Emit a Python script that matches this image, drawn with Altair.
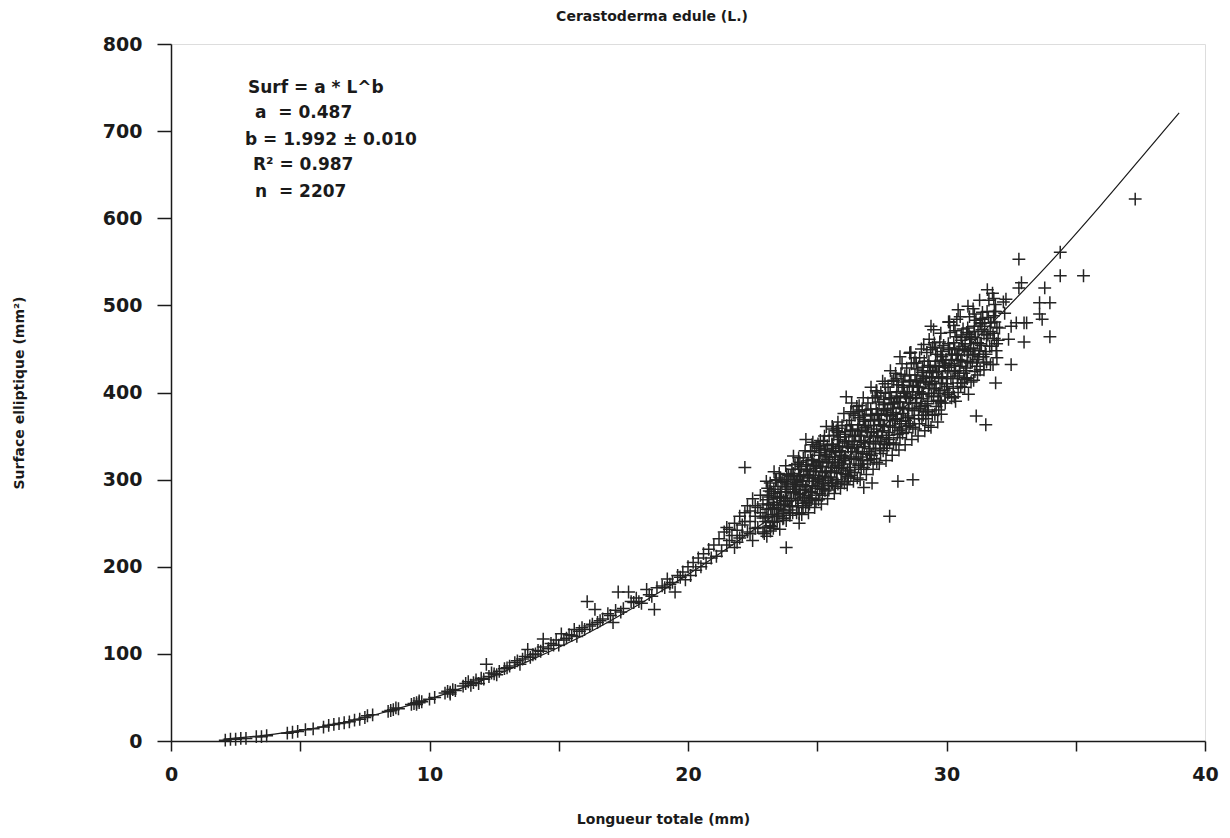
import altair as alt
import pandas as pd

# ---------------- data ----------------
# small shells (L < 20 mm)
low_L = [2.1, 2.3, 2.5, 2.7, 2.9, 3.3, 3.5, 3.7, 4.5, 4.7,
         4.9, 5.2, 5.5, 5.9, 6.1, 6.3, 6.5, 6.7, 6.9, 7.1,
         7.3, 7.5, 7.6, 7.8, 8.4, 8.5, 8.6, 8.7, 8.8, 9.3,
         9.4, 9.5, 9.6, 9.7, 10.0, 10.2, 10.6, 10.7, 10.8, 10.9,
         11.3, 11.4, 11.5, 11.6, 11.8, 11.9, 12.0, 12.2, 12.3, 12.4,
         12.5, 12.7, 12.9, 13.1, 13.3, 13.4, 13.5, 13.7, 13.8, 13.9,
         14.1, 14.2, 14.4, 14.4, 14.6, 14.7, 14.9, 15.0, 15.1, 15.3,
         15.4, 15.6, 15.7, 15.9, 16.1, 16.2, 16.4, 16.5, 16.7, 16.9,
         17.1, 17.2, 17.3, 17.5, 17.7, 17.8, 17.9, 18.0, 18.2, 18.4,
         18.5, 18.7, 18.8, 19.0, 19.2, 19.3, 19.5, 19.6, 19.8, 19.9,
         9.5, 9.6, 10.8, 11.0, 11.7, 12.1, 12.6, 13.0, 13.6, 14.0,
         14.3, 14.8, 15.2, 15.5, 15.8, 16.0, 16.3, 16.6, 17.0, 17.4,
         18.1, 18.6, 19.1, 19.4, 19.7]
low_S = [1, 2, 2, 3, 3, 5, 5, 6, 9, 10,
         11, 13, 14, 16, 18, 19, 20, 21, 22, 24,
         25, 27, 29, 30, 34, 35, 36, 38, 37, 42,
         43, 44, 46, 45, 48, 50, 55, 57, 56, 59,
         63, 66, 68, 64, 70, 66, 72, 88, 74, 78,
         77, 80, 83, 86, 90, 92, 88, 97, 105, 96,
         100, 104, 108, 117, 106, 112, 116, 110, 123, 118,
         122, 128, 120, 130, 160, 132, 151, 136, 140, 146,
         136, 150, 171, 152, 171, 160, 159, 164, 158, 174,
         168, 151, 176, 178, 186, 180, 171, 190, 194, 185,
         42, 44, 54, 58, 67, 71, 76, 84, 94, 99,
         103, 110, 116, 121, 126, 128, 134, 138, 144, 148,
         160, 166, 176, 182, 188]

# 20 - 23 mm
mid_L = [20.0, 20.1, 20.2, 20.3, 20.4, 20.5, 20.6, 20.7, 20.8, 20.9,
         21.0, 21.1, 21.2, 21.3, 21.4, 21.5, 21.5, 21.6, 21.7, 21.8,
         21.8, 21.9, 22.0, 22.0, 22.1, 22.2, 22.2, 22.3, 22.3, 22.4,
         22.5, 22.5, 22.6, 22.7, 22.7, 22.8, 22.9, 22.9, 22.1, 22.4,
         22.6, 22.8, 22.9, 22.4, 22.6, 22.2, 21.9, 21.6]
mid_S = [200, 190, 205, 196, 210, 200, 215, 204, 220, 210,
         225, 212, 232, 218, 240, 225, 245, 230, 236, 250,
         222, 242, 258, 233, 248, 314, 262, 240, 270, 252,
         230, 278, 258, 245, 268, 282, 256, 240, 236, 264,
         244, 262, 272, 238, 270, 252, 228, 243]

# dense band 23 - 32 mm (first reading)
band_L = [
    22.95, 23.0, 23.05, 23.1, 22.98, 23.08, 23.02, 23.12,
    23.2, 23.25, 23.3, 23.22, 23.28, 23.35, 23.18, 23.32,
    23.45, 23.5, 23.55, 23.48, 23.58, 23.42, 23.52, 23.6,
    23.7, 23.75, 23.8, 23.72, 23.78, 23.68, 23.82, 23.76,
    23.95, 24.0, 24.05, 23.98, 24.08, 23.92, 24.02, 24.1,
    24.2, 24.25, 24.3, 24.22, 24.28, 24.18, 24.32, 24.26, 24.24, 24.35, 24.15, 24.3,
    24.45, 24.5, 24.55, 24.48, 24.58, 24.42, 24.52, 24.6, 24.46, 24.56, 24.4, 24.62,
    24.7, 24.75, 24.8, 24.72, 24.78, 24.68, 24.82, 24.76, 24.74, 24.85, 24.66, 24.8,
    24.95, 25.0, 25.05, 24.98, 25.08, 24.92, 25.02, 25.1, 24.96, 25.06, 24.9, 25.12,
    25.2, 25.25, 25.3, 25.22, 25.28, 25.18, 25.32, 25.26, 25.24, 25.35, 25.16, 25.3,
    25.45, 25.5, 25.55, 25.48, 25.58, 25.42, 25.52, 25.6, 25.46, 25.56, 25.4, 25.62,
    25.7, 25.75, 25.8, 25.72, 25.78, 25.68, 25.82, 25.76, 25.74, 25.85, 25.66, 25.8,
    25.95, 26.0, 26.05, 25.98, 26.08, 25.92, 26.02, 26.1, 25.96, 26.06, 25.9, 26.12,
    26.2, 26.25, 26.3, 26.22, 26.28, 26.18, 26.32, 26.26, 26.24, 26.35, 26.16, 26.3,
    26.45, 26.5, 26.55, 26.48, 26.58, 26.42, 26.52, 26.6, 26.46, 26.56, 26.4, 26.62,
    26.7, 26.75, 26.8, 26.72, 26.78, 26.68, 26.82, 26.76, 26.74, 26.85, 26.66, 26.8,
    26.95, 27.0, 27.05, 26.98, 27.08, 26.92, 27.02, 27.1, 26.96, 27.06, 26.9, 27.12,
    27.2, 27.25, 27.3, 27.22, 27.28, 27.18, 27.32, 27.26, 27.24, 27.35, 27.16, 27.3,
    27.45, 27.5, 27.55, 27.48, 27.58, 27.42, 27.52, 27.6, 27.46, 27.56, 27.4, 27.62,
    27.7, 27.75, 27.8, 27.72, 27.78, 27.68, 27.82, 27.76, 27.74, 27.85, 27.66, 27.8,
    27.95, 28.0, 28.05, 27.98, 28.08, 27.92, 28.02, 28.1, 27.96, 28.06, 27.9, 28.12,
    28.2, 28.25, 28.3, 28.22, 28.28, 28.18, 28.32, 28.26, 28.24, 28.35, 28.16, 28.2,
    28.45, 28.5, 28.55, 28.48, 28.58, 28.42, 28.52, 28.6, 28.46, 28.56, 28.4, 28.62,
    28.7, 28.75, 28.8, 28.72, 28.78, 28.68, 28.82, 28.76, 28.74, 28.85, 28.66, 28.7,
    28.95, 29.0, 29.05, 28.98, 29.08, 28.92, 29.02, 29.1, 28.96, 29.06, 28.9, 29.12,
    29.2, 29.25, 29.3, 29.22, 29.28, 29.18, 29.32, 29.26, 29.24, 29.35, 29.16, 29.3,
    29.45, 29.5, 29.55, 29.48, 29.58, 29.42, 29.52, 29.6, 29.46, 29.56, 29.4, 29.5,
    29.7, 29.75, 29.8, 29.72, 29.78, 29.68, 29.82, 29.76, 29.74, 29.85, 29.66, 29.8,
    29.95, 30.0, 30.05, 29.98, 30.08, 29.92, 30.02, 30.1, 30.12,
    30.2, 30.25, 30.3, 30.22, 30.28, 30.18, 30.32, 30.26, 30.35,
    30.45, 30.5, 30.55, 30.48, 30.58, 30.42, 30.52, 30.6, 30.45,
    30.7, 30.75, 30.8, 30.72, 30.78, 30.68, 30.82, 30.76, 30.85,
    30.95, 31.0, 31.05, 30.98, 31.08, 30.92, 31.02, 31.1, 30.9,
    31.2, 31.25, 31.3, 31.22, 31.28, 31.15,
    31.45, 31.5, 31.55, 31.48, 31.4, 31.52,
    31.7, 31.75, 31.8, 31.72, 31.9, 31.85,
    31.95, 32.0, 32.05, 32.2, 32.25, 32.3,
]
band_S = [
    238, 252, 266, 280, 258, 290, 245, 272,
    246, 260, 274, 286, 266, 252, 296, 279,
    252, 266, 280, 292, 271, 300, 258, 286,
    256, 272, 286, 298, 279, 264, 306, 292,
    262, 278, 292, 304, 285, 270, 312, 296,
    262, 276, 288, 300, 312, 294, 283, 270, 318, 305, 292, 250,
    268, 280, 292, 305, 317, 298, 288, 274, 325, 346, 260, 310,
    272, 286, 298, 310, 322, 303, 293, 279, 332, 316, 262, 340,
    276, 290, 302, 315, 328, 309, 298, 284, 338, 321, 268, 345,
    282, 296, 308, 320, 334, 315, 304, 290, 344, 361, 272, 327,
    288, 302, 314, 326, 340, 320, 310, 296, 350, 332, 278, 358,
    292, 308, 320, 333, 346, 326, 316, 300, 356, 338, 284, 366,
    298, 314, 326, 338, 352, 332, 322, 306, 362, 344, 290, 395,
    302, 318, 332, 344, 357, 338, 326, 310, 368, 350, 294, 378,
    308, 324, 337, 350, 363, 344, 332, 316, 374, 356, 298, 385,
    312, 330, 343, 356, 369, 350, 338, 322, 380, 362, 300, 291,
    318, 336, 349, 362, 375, 355, 344, 328, 388, 368, 306, 296,
    324, 342, 355, 368, 381, 362, 350, 334, 394, 374, 312, 402,
    330, 348, 362, 375, 388, 368, 356, 340, 400, 381, 318, 410,
    336, 354, 368, 381, 394, 375, 362, 346, 406, 387, 322, 258,
    342, 360, 375, 388, 401, 382, 369, 352, 414, 394, 328, 298,
    348, 367, 382, 395, 408, 389, 376, 358, 421, 401, 334, 441,
    354, 373, 388, 401, 414, 395, 382, 364, 428, 408, 340, 446,
    360, 379, 394, 407, 420, 401, 388, 370, 434, 414, 346, 300,
    364, 384, 399, 412, 425, 406, 393, 374, 440, 419, 350, 455,
    370, 390, 405, 418, 431, 412, 399, 380, 446, 425, 356, 362,
    374, 395, 410, 423, 436, 417, 404, 384, 452, 430, 360, 472,
    380, 402, 417, 430, 443, 424, 411, 390, 458, 437, 366, 375,
    388, 410, 425, 438, 451, 431, 418, 400, 481,
    394, 416, 431, 444, 457, 437, 424, 405, 390,
    400, 422, 437, 450, 463, 443, 430, 411, 495,
    406, 428, 443, 456, 469, 449, 436, 417, 398,
    412, 435, 450, 463, 476, 456, 443, 424, 464,
    420, 441, 456, 470, 448, 373,
    426, 447, 462, 476, 484, 363,
    432, 453, 468, 480, 411, 493,
    440, 460, 474, 504, 491, 507,
]

# dense band 23 - 32 mm (second reading, between the first one)
band2_L = [
    23.05, 23.17, 23.10, 23.20, 23.07, 23.14, 23.03, 23.19, 23.12, 23.08,
    23.30, 23.42, 23.35, 23.45, 23.32, 23.39, 23.28, 23.44, 23.37, 23.33,
    23.55, 23.67, 23.60, 23.70, 23.57, 23.64, 23.53, 23.69, 23.62, 23.58,
    23.80, 23.92, 23.85, 23.95, 23.82, 23.89, 23.78, 23.94, 23.87, 23.83,
    24.05, 24.17, 24.10, 24.20, 24.07, 24.14, 24.03, 24.19, 24.12, 24.08,
    24.30, 24.42, 24.35, 24.45, 24.32, 24.39, 24.28, 24.44, 24.37, 24.33,
    24.55, 24.67, 24.60, 24.70, 24.57, 24.64, 24.53, 24.69, 24.62, 24.58,
    24.80, 24.92, 24.85, 24.95, 24.82, 24.89, 24.78, 24.94, 24.87, 24.83,
    25.05, 25.17, 25.10, 25.20, 25.07, 25.14, 25.03, 25.19, 25.12, 25.08,
    25.30, 25.42, 25.35, 25.45, 25.32, 25.39, 25.28, 25.44, 25.37, 25.33,
    25.55, 25.67, 25.60, 25.70, 25.57, 25.64, 25.53, 25.69, 25.62, 25.58,
    25.80, 25.92, 25.85, 25.95, 25.82, 25.89, 25.78, 25.94, 25.87, 25.83,
    26.05, 26.17, 26.10, 26.20, 26.07, 26.14, 26.03, 26.19, 26.12, 26.08,
    26.30, 26.42, 26.35, 26.45, 26.32, 26.39, 26.28, 26.44, 26.37, 26.33,
    26.55, 26.67, 26.60, 26.70, 26.57, 26.64, 26.53, 26.69, 26.62, 26.58,
    26.80, 26.92, 26.85, 26.95, 26.82, 26.89, 26.78, 26.94, 26.87, 26.83,
    27.05, 27.17, 27.10, 27.20, 27.07, 27.14, 27.03, 27.19, 27.12, 27.08,
    27.30, 27.42, 27.35, 27.45, 27.32, 27.39, 27.28, 27.44, 27.37, 27.33,
    27.55, 27.67, 27.60, 27.70, 27.57, 27.64, 27.53, 27.69, 27.62, 27.58,
    27.80, 27.92, 27.85, 27.95, 27.82, 27.89, 27.78, 27.94, 27.87, 27.83,
    28.05, 28.17, 28.10, 28.20, 28.07, 28.14, 28.03, 28.19, 28.12, 28.08,
    28.30, 28.42, 28.35, 28.45, 28.32, 28.39, 28.28, 28.44, 28.37, 28.33,
    28.55, 28.67, 28.60, 28.70, 28.57, 28.64, 28.53, 28.69, 28.62, 28.58,
    28.80, 28.92, 28.85, 28.95, 28.82, 28.89, 28.78, 28.94, 28.87, 28.83,
    29.05, 29.17, 29.10, 29.20, 29.07, 29.14, 29.03, 29.19, 29.12, 29.08,
    29.30, 29.42, 29.35, 29.45, 29.32, 29.39, 29.28, 29.44, 29.37, 29.33,
    29.55, 29.67, 29.60, 29.70, 29.57, 29.64, 29.53, 29.69, 29.62, 29.58,
    29.80, 29.92, 29.85, 29.95, 29.82, 29.89, 29.78, 29.94, 29.87, 29.83,
    30.05, 30.17, 30.10, 30.20, 30.07, 30.14, 30.03, 30.19, 30.12, 30.08,
    30.30, 30.42, 30.35, 30.45, 30.32, 30.39, 30.28, 30.44, 30.37, 30.33,
    30.55, 30.67, 30.60, 30.70, 30.57, 30.64, 30.53, 30.69, 30.62, 30.58,
    30.80, 30.92, 30.85, 30.95, 30.82, 30.89, 30.78, 30.94, 30.87, 30.83,
    31.05, 31.17, 31.10, 31.20, 31.07, 31.14, 31.03, 31.19, 31.12, 31.08,
    31.30, 31.42, 31.35, 31.45, 31.32, 31.39, 31.28, 31.44, 31.37, 31.33,
    31.55, 31.67, 31.60, 31.70, 31.57, 31.64, 31.53, 31.69, 31.62, 31.58,
    31.80, 31.92, 31.85, 31.95, 31.82, 31.89, 31.78, 31.94, 31.87, 31.83,
]
band2_S = [
    235, 247, 257, 267, 277, 287, 298, 241, 271, 282,
    244, 258, 268, 279, 289, 299, 251, 271, 284, 309,
    243, 255, 266, 276, 286, 297, 307, 261, 281, 302,
    253, 265, 275, 285, 295, 305, 316, 259, 289, 300,
    262, 276, 286, 297, 307, 317, 269, 289, 302, 327,
    261, 273, 284, 294, 304, 315, 325, 279, 299, 320,
    270, 282, 292, 302, 312, 322, 333, 276, 306, 317,
    278, 292, 302, 313, 323, 333, 285, 305, 318, 343,
    277, 289, 300, 310, 320, 331, 341, 295, 315, 336,
    287, 299, 309, 319, 329, 339, 350, 293, 323, 334,
    296, 310, 320, 331, 341, 351, 303, 323, 336, 361,
    295, 307, 318, 328, 338, 349, 359, 313, 333, 354,
    296, 311, 324, 337, 349, 362, 376, 304, 342, 355,
    305, 323, 336, 350, 363, 376, 314, 340, 356, 388,
    302, 318, 332, 345, 358, 371, 384, 326, 351, 378,
    314, 329, 342, 355, 367, 380, 394, 322, 360, 373,
    323, 341, 354, 368, 381, 394, 332, 358, 374, 406,
    320, 336, 350, 363, 376, 389, 402, 344, 369, 396,
    333, 348, 361, 374, 386, 399, 413, 341, 379, 392,
    342, 360, 373, 387, 400, 413, 351, 377, 393, 425,
    340, 356, 370, 383, 396, 409, 422, 364, 389, 416,
    353, 368, 381, 394, 406, 419, 433, 361, 399, 412,
    362, 380, 393, 407, 420, 433, 371, 397, 413, 445,
    358, 374, 388, 401, 414, 427, 440, 382, 407, 434,
    370, 385, 398, 411, 423, 436, 450, 378, 416, 429,
    378, 396, 409, 423, 436, 449, 387, 413, 429, 461,
    375, 391, 405, 418, 431, 444, 457, 399, 424, 451,
    388, 403, 416, 429, 441, 454, 468, 396, 434, 447,
    398, 416, 429, 443, 456, 469, 407, 433, 449, 481,
    395, 411, 425, 438, 451, 464, 477, 419, 444, 471,
    407, 422, 435, 448, 460, 473, 487, 415, 453, 466,
    416, 434, 447, 461, 474, 487, 425, 451, 467, 499,
    414, 430, 444, 457, 470, 483, 496, 438, 463, 490,
    426, 441, 454, 467, 479, 492, 506, 434, 472, 485,
    435, 453, 466, 480, 493, 506, 444, 470, 486, 518,
    432, 448, 462, 475, 488, 501, 514, 456, 481, 508,
]

# largest shells and isolated points
big_L = [32.4, 32.5, 32.5, 32.7, 32.8, 32.9, 32.8, 33.0, 33.0, 33.1,
         33.6, 33.6, 33.7, 33.8, 34.0, 34.0, 34.4, 34.4, 35.3, 37.3,
         30.4, 30.1, 29.4, 28.6, 23.8, 31.3, 31.9]
big_S = [461, 476, 432, 480, 553, 526, 520, 480, 458, 480,
         503, 490, 484, 520, 503, 464, 561, 534, 534, 622,
         484, 481, 476, 446, 222, 480, 493]

# fitted curve Surf = a * L^b
curve_L = [2, 4, 6, 8, 10, 12, 14, 16, 18, 20, 22, 24, 26, 28, 30, 32, 34, 36, 38, 39]
curve_S = [2, 8, 17, 31, 48, 69, 94, 122, 155, 191, 231, 274, 322, 373, 428, 487, 549, 616, 686, 721]

x_tick_values = [0, 5, 10, 15, 20, 25, 30, 35, 40]
y_tick_values = [0, 100, 200, 300, 400, 500, 600, 700, 800]

annotation_lines = [
    "Surf = a * L^b",
    "a\u00a0\u00a0= 0.487",
    "b\u00a0= 1.992 \u00b1 0.010",
    "R\u00b2\u00a0= 0.987",
    "n\u00a0\u00a0= 2207",
]

assert len(low_L) == len(low_S)
assert len(mid_L) == len(mid_S)
assert len(band_L) == len(band_S)
assert len(band2_L) == len(band2_S)
assert len(big_L) == len(big_S)

points = pd.DataFrame({
    "L": low_L + mid_L + band_L + band2_L + big_L,
    "S": low_S + mid_S + band_S + band2_S + big_S,
})
curve = pd.DataFrame({"L": curve_L, "S": curve_S})

FONT = "DejaVu Sans"
INK = "#1a1a1a"

x_scale = alt.Scale(domain=[0, 40], nice=False, zero=False)
y_scale = alt.Scale(domain=[0, 800], nice=False, zero=False)

x_axis = alt.Axis(
    values=x_tick_values,
    labelExpr="datum.value % 10 === 0 ? datum.label : ''",
    format="d",
    title="Longueur totale (mm)",
    grid=False,
    tickSize=10, tickWidth=1.5, tickColor=INK,
    domainColor=INK, domainWidth=1.5,
    labelFont=FONT, labelFontSize=19, labelFontWeight="bold", labelColor=INK,
    labelPadding=14, labelFlush=False, labelOverlap=False,
    titleFont=FONT, titleFontSize=14, titleFontWeight="bold", titleColor=INK,
    titlePadding=28, titleX=492, titleAlign="center",
)
y_axis = alt.Axis(
    values=y_tick_values,
    format="d",
    title="Surface elliptique (mm\u00b2)",
    grid=False,
    tickSize=14, tickWidth=1.5, tickColor=INK,
    domainColor=INK, domainWidth=1.5,
    labelFont=FONT, labelFontSize=19, labelFontWeight="bold", labelColor=INK,
    labelPadding=15, labelFlush=False, labelOverlap=False,
    titleFont=FONT, titleFontSize=14, titleFontWeight="bold", titleColor=INK,
    titlePadding=76,
)

line_layer = alt.Chart(curve).mark_line(
    color=INK, strokeWidth=1.2, interpolate="monotone"
).encode(
    x=alt.X("L:Q", scale=x_scale, axis=x_axis),
    y=alt.Y("S:Q", scale=y_scale, axis=y_axis),
)

point_layer = alt.Chart(points).mark_point(
    shape="M-1,0L1,0M0,-1L0,1",
    filled=False,
    size=165,
    strokeWidth=1.5,
    color="#242424",
    opacity=1,
).encode(
    x=alt.X("L:Q", scale=x_scale),
    y=alt.Y("S:Q", scale=y_scale),
)

# annotation lines: left offset and vertical centre of each line, in pixels
annot_x = [77, 84, 74, 82, 84]
annot_y = [44, 69, 96, 121, 148]

one_row = pd.DataFrame({"k": [0]})
text_layers = [
    alt.Chart(one_row).mark_text(
        text=line, align="left", baseline="middle",
        font=FONT, fontSize=17, fontWeight="bold", color=INK,
    ).encode(x=alt.value(ax), y=alt.value(ay))
    for line, ax, ay in zip(annotation_lines, annot_x, annot_y)
]

chart = alt.layer(line_layer, point_layer, *text_layers).properties(
    width=1034,
    height=697,
    title=alt.TitleParams(
        text="Cerastoderma edule (L.)",
        font=FONT, fontSize=14, fontWeight="bold", color=INK,
        anchor="middle", dx=-36, offset=11, frame="group",
    ),
    autosize=alt.AutoSizeParams(type="none"),
    padding={"left": 163, "top": 36, "right": 17, "bottom": 89},
).configure_view(
    stroke=INK, strokeWidth=1.5
).configure(
    background="white"
)

chart.save("out.html", embed_options={"renderer": "svg", "actions": False})
